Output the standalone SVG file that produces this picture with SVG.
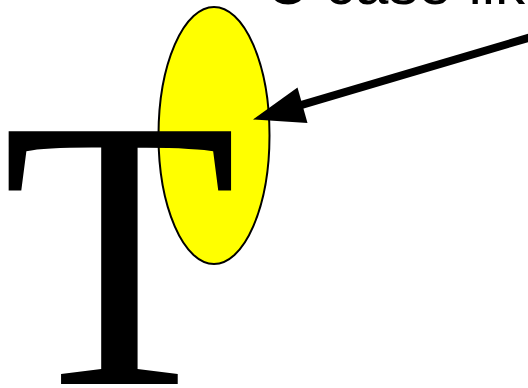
<svg xmlns="http://www.w3.org/2000/svg" width="528" height="388" viewBox="0 0 528 388">
  <style>
    .bg { fill: #ffffff; }
    .node { fill: #ffff00; stroke: #000000; stroke-width: 2; }
    .big { font-family: "Liberation Serif", "Times New Roman", serif; font-size: 386px; fill: #000000; }
    .label { font-family: "Liberation Sans", Arial, sans-serif; font-size: 60px; fill: #000000; }
    .conn { stroke: #000000; stroke-width: 8; fill: none; }
    .head { fill: #000000; stroke: none; }
  </style>
  <rect class="bg" x="0" y="0" width="528" height="388"/>
  <g id="ellipse-node">
    <ellipse class="node" cx="214" cy="135.5" rx="55.5" ry="128.5"/>
  </g>
  <g id="letter-T">
    <text class="big" x="1.7" y="384">T</text>
  </g>
  <g id="connectors">
    <line class="conn" x1="545" y1="33" x2="300" y2="105.3"/>
    <polygon class="head" points="253,119.5 297.5,87.5 307.5,123"/>
  </g>
  <g id="caption">
    <text class="label" x="265" y="4">C case like</text>
  </g>
</svg>
